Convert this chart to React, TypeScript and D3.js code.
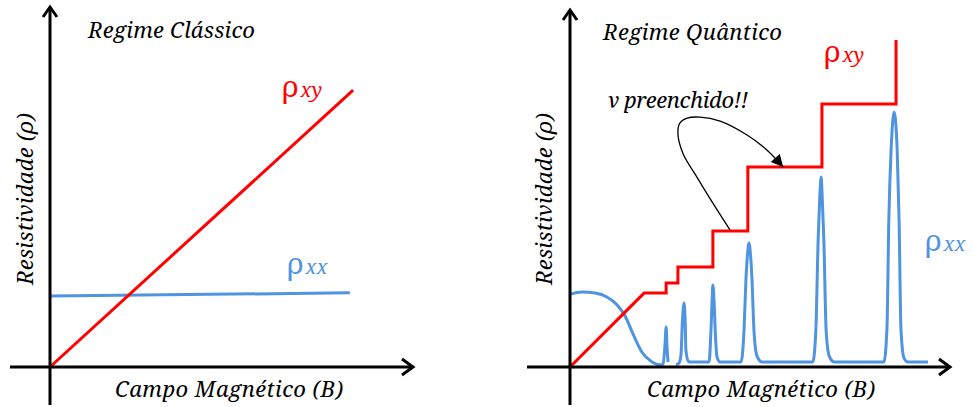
import React from 'react';
import * as d3 from 'd3';

// classical regime (left): B and rho in arbitrary units 0..10
const classicRhoXY = [
  { b: 0, r: 0 },
  { b: 8.35, r: 7.69 },
];
const classicRhoXX = [
  { b: 0, r: 1.97 },
  { b: 8.26, r: 2.06 },
];

// quantum regime (right): plateau edges and plateau heights of rho_xy
const stepEdges = [1.95, 2.53, 2.84, 3.76, 4.68, 6.63, 8.58];
const stepLevels = [2.07, 2.35, 2.8, 3.81, 5.6, 7.37, 9.16];

// rho_xx, low field hump + first small peak
const rhoXXLow = [
  { b: 0, r: 2.04 }, { b: 0.32, r: 2.1 }, { b: 0.66, r: 2.07 }, { b: 0.97, r: 1.96 },
  { b: 1.24, r: 1.74 }, { b: 1.45, r: 1.43 }, { b: 1.66, r: 0.92 }, { b: 1.89, r: 0.42 },
  { b: 2.16, r: 0.14 }, { b: 2.37, r: 0.06 }, { b: 2.45, r: 0.08 }, { b: 2.5, r: 0.62 },
  { b: 2.53, r: 1.12 }, { b: 2.55, r: 0.62 }, { b: 2.58, r: 0.14 },
];
// rho_xx, Shubnikov-de Haas peaks
const rhoXXHigh = [
  { b: 2.79, r: 0.06 }, { b: 2.87, r: 0.11 }, { b: 2.92, r: 0.34 }, { b: 2.96, r: 1.32 },
  { b: 3.0, r: 1.79 }, { b: 3.03, r: 1.32 }, { b: 3.05, r: 0.48 }, { b: 3.11, r: 0.17 },
  { b: 3.16, r: 0.14 },
  { b: 3.66, r: 0.14 }, { b: 3.71, r: 1.04 }, { b: 3.74, r: 1.88 }, { b: 3.76, r: 2.3 },
  { b: 3.79, r: 1.88 }, { b: 3.82, r: 1.04 }, { b: 3.87, r: 0.28 }, { b: 3.95, r: 0.14 },
  { b: 4.5, r: 0.14 }, { b: 4.58, r: 1.04 }, { b: 4.63, r: 2.44 }, { b: 4.67, r: 3.14 },
  { b: 4.71, r: 3.47 }, { b: 4.75, r: 3.14 }, { b: 4.79, r: 2.44 }, { b: 4.84, r: 1.04 },
  { b: 4.92, r: 0.31 }, { b: 5.05, r: 0.14 },
  { b: 6.39, r: 0.14 }, { b: 6.47, r: 1.04 }, { b: 6.53, r: 3.56 }, { b: 6.57, r: 4.68 },
  { b: 6.61, r: 5.32 }, { b: 6.64, r: 4.68 }, { b: 6.68, r: 3.56 }, { b: 6.74, r: 1.04 },
  { b: 6.82, r: 0.31 }, { b: 6.95, r: 0.14 },
  { b: 8.26, r: 0.14 }, { b: 8.34, r: 1.04 }, { b: 8.39, r: 4.12 }, { b: 8.45, r: 6.08 },
  { b: 8.53, r: 7.14 }, { b: 8.61, r: 6.08 }, { b: 8.66, r: 4.12 }, { b: 8.71, r: 1.04 },
  { b: 8.79, r: 0.25 }, { b: 8.89, r: 0.14 },
  { b: 9.42, r: 0.14 },
];

// annotation arrow "v preenchido!!"
const fillArrow = [
  { b: 4.21, r: 3.84 }, { b: 3.76, r: 4.59 }, { b: 3.34, r: 5.32 }, { b: 2.97, r: 5.99 },
  { b: 2.84, r: 6.55 }, { b: 2.89, r: 6.83 }, { b: 3.08, r: 6.97 }, { b: 3.42, r: 7.0 },
  { b: 3.95, r: 6.89 }, { b: 4.66, r: 6.5 }, { b: 5.18, r: 6.08 }, { b: 5.61, r: 5.6 },
];

const RED = '#ff0000';
const BLUE = '#4f94e0';
const FONT = 'Noto Serif, serif';

type P = { b: number; r: number };

const Axes = ({ ox, oy, left, right, top, bottom }: any) => {
  const a = 8;
  return (
    <g stroke="#000" strokeWidth={3} fill="none">
      <line x1={left} y1={oy} x2={right - 1} y2={oy} />
      <line x1={ox} y1={bottom} x2={ox} y2={top + 1} />
      <path d={`M${right - 11},${oy - a} L${right},${oy} L${right - 11},${oy + a}`} strokeLinejoin="miter" />
      <path d={`M${ox - 7},${top + 10} L${ox},${top} L${ox + 7},${top + 10}`} strokeLinejoin="miter" />
    </g>
  );
};

const Rho = ({ x, y, sub, color }: any) => (
  <text x={x} y={y} fill={color}>
    <tspan style={{ fontFamily: FONT, fontSize: 29 }}>ρ</tspan>
    <tspan style={{ fontFamily: FONT, fontSize: 20, fontStyle: 'italic' }} dx={2}>{sub}</tspan>
  </text>
);

const Label = ({ x, y, w, anchor, transform, children }: any) => (
  <text x={x} y={y} transform={transform} textAnchor={anchor} textLength={w} lengthAdjust="spacing"
    fill="#000" style={{ fontFamily: FONT, fontStyle: 'italic', fontSize: 22 }}>
    {children}
  </text>
);

export default function App() {
  const xL = d3.scaleLinear().domain([0, 10]).range([50, 413]);
  const yL = d3.scaleLinear().domain([0, 10]).range([367, 7]);
  const xR = d3.scaleLinear().domain([0, 10]).range([570, 950]);
  const yR = d3.scaleLinear().domain([0, 10]).range([367, 10]);

  const lineL = d3.line<P>().x(d => xL(d.b)).y(d => yL(d.r));
  const lineR = d3.line<P>().x(d => xR(d.b)).y(d => yR(d.r));
  const smoothR = d3.line<P>().x(d => xR(d.b)).y(d => yR(d.r)).curve(d3.curveMonotoneX);
  const arrowLine = d3.line<P>().x(d => xR(d.b)).y(d => yR(d.r)).curve(d3.curveCatmullRom);

  const steps: P[] = [{ b: 0, r: 0 }, { b: stepEdges[0], r: stepLevels[0] }];
  for (let i = 1; i < stepEdges.length; i++) {
    steps.push({ b: stepEdges[i], r: stepLevels[i - 1] });
    steps.push({ b: stepEdges[i], r: stepLevels[i] });
  }

  return (
    <svg width={974} height={407} style={{ position: 'absolute', left: 0, top: 0, background: '#fff' }}>
      <defs>
        <marker id="ah" viewBox="0 0 10 10" refX={10} refY={5} markerWidth={14} markerHeight={12}
          markerUnits="userSpaceOnUse" orient="auto">
          <path d="M0,0 L10,5 L0,10 Z" fill="#000" />
        </marker>
      </defs>

      {/* left: classical */}
      <path d={lineL(classicRhoXX)!} stroke={BLUE} strokeWidth={3} fill="none" />
      <path d={lineL(classicRhoXY)!} stroke={RED} strokeWidth={3} fill="none" />
      <Axes ox={50} oy={367} left={10} right={413} top={7} bottom={405} />
      <Label x={88} y={38} w={167}>Regime Clássico</Label>
      <Rho x={282} y={97} sub="xy" color={RED} />
      <Rho x={287} y={274} sub="xx" color={BLUE} />
      <Label x={115} y={397} w={228}>Campo Magnético (B)</Label>
      <Label x={0} y={0} w={172} anchor="middle" transform="translate(33,199) rotate(-90)">Resistividade (ρ)</Label>

      {/* right: quantum */}
      <path d={smoothR(rhoXXLow)!} stroke={BLUE} strokeWidth={3} fill="none" />
      <path d={smoothR(rhoXXHigh)!} stroke={BLUE} strokeWidth={3} fill="none" />
      <path d={lineR(steps)!} stroke={RED} strokeWidth={3} fill="none" strokeLinejoin="miter" />
      <Axes ox={570} oy={367} left={527} right={950} top={10} bottom={405} />
      <path d={arrowLine(fillArrow)!} stroke="#000" strokeWidth={1.3} fill="none" markerEnd="url(#ah)" />
      <Label x={603} y={40} w={179}>Regime Quântico</Label>
      <Label x={607} y={108} w={141}>ν preenchido!!</Label>
      <Rho x={824} y={62} sub="xy" color={RED} />
      <Rho x={925} y={251} sub="xx" color={BLUE} />
      <Label x={647} y={397} w={228}>Campo Magnético (B)</Label>
      <Label x={0} y={0} w={172} anchor="middle" transform="translate(552,199) rotate(-90)">Resistividade (ρ)</Label>
    </svg>
  );
}
